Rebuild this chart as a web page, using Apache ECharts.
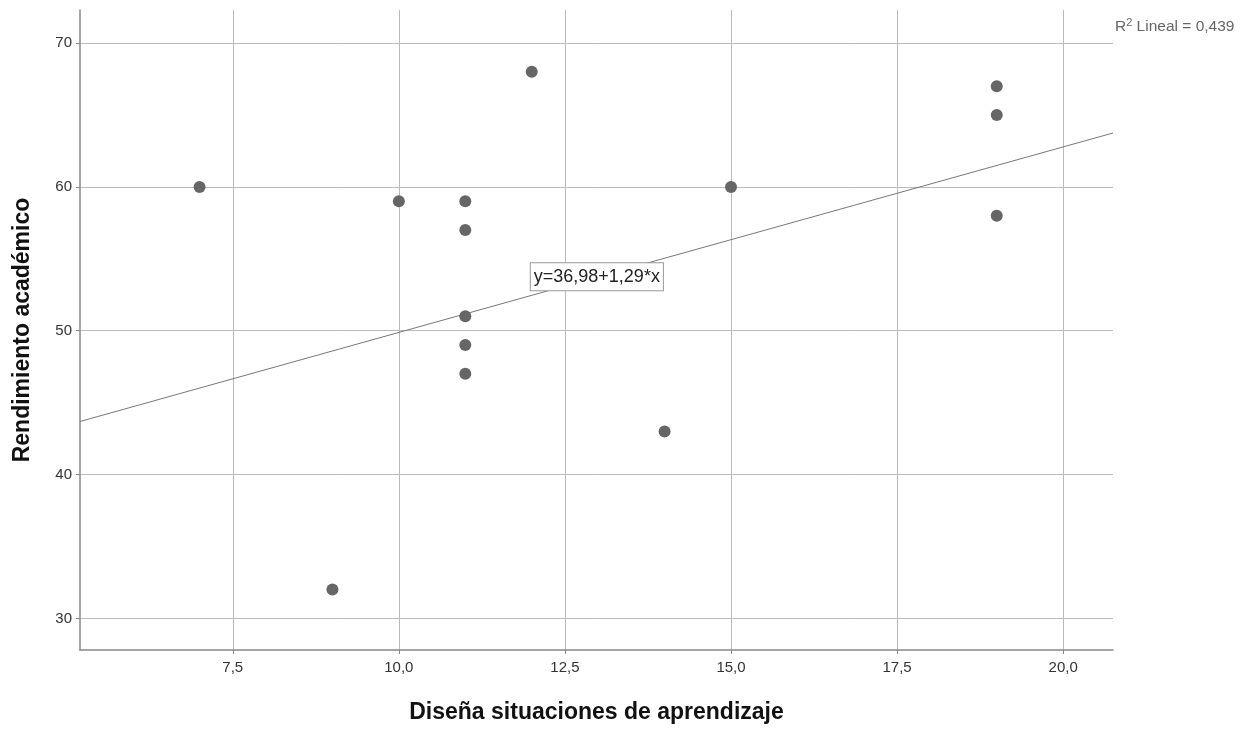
<!DOCTYPE html>
<html><head><meta charset="utf-8">
<script src="https://cdn.jsdelivr.net/npm/echarts@6/dist/echarts.min.js"></script>
<style>html,body{margin:0;padding:0;background:#fff}#c{width:1255px;height:731px}</style>
</head><body><div id="c"></div>
<script>
const xValues = [7, 9, 10, 11, 11, 11, 11, 11, 12, 14, 15, 19, 19, 19];
const yValues = [60, 32, 59, 59, 57, 51, 49, 47, 68, 43, 60, 67, 65, 58];
const xTicks = [7.5, 10, 12.5, 15, 17.5, 20];
const yTicks = [30, 40, 50, 60, 70];
const intercept = 36.98;
const slope = 1.29;
const r2 = '0,439';
const xTitle = 'Diseña situaciones de aprendizaje';
const yTitle = 'Rendimiento académico';

const xMin = 5.2, xMax = 20.75, yMin = 27.8, yMax = 72.3;
const fmt2 = v => v.toFixed(2).replace('.', ',');
const fmtX = v => v.toFixed(1).replace('.', ',');

const chart = echarts.init(document.getElementById('c'));
const font = '"Liberation Sans", Arial, sans-serif';
chart.setOption({
  animation: false,
  textStyle: {fontFamily: font},
  grid: {left: 80, right: 142, top: 10, bottom: 81, outerBoundsMode: 'none', containLabel: false},
  xAxis: {
    type: 'value', min: xMin, max: xMax,
    name: xTitle, nameLocation: 'middle', nameGap: 51,
    nameTextStyle: {fontSize: 23, fontWeight: 'bold', color: '#111', fontFamily: font},
    axisLine: {show: true, lineStyle: {color: '#888', width: 1.5}},
    axisTick: {show: true, length: 4, customValues: xTicks, lineStyle: {color: '#888'}},
    axisLabel: {customValues: xTicks, formatter: v => fmtX(v), fontSize: 15, color: '#333', margin: 10},
    splitLine: {show: true, lineStyle: {color: '#bbb', width: 1}}
  },
  yAxis: {
    type: 'value', min: yMin, max: yMax,
    name: yTitle, nameLocation: 'middle', nameGap: 46, nameRotate: 90,
    nameTextStyle: {fontSize: 23, fontWeight: 'bold', color: '#111', fontFamily: font},
    axisLine: {show: true, lineStyle: {color: '#888', width: 1.5}},
    axisTick: {show: true, length: 4, customValues: yTicks, lineStyle: {color: '#888'}},
    axisLabel: {customValues: yTicks, formatter: v => String(v), fontSize: 15, color: '#333', margin: 8},
    splitLine: {show: true, lineStyle: {color: '#bbb', width: 1}}
  },
  series: [
    {
      type: 'scatter',
      data: xValues.map((x, i) => [x, yValues[i]]),
      symbolSize: 12,
      itemStyle: {color: '#666', opacity: 1},
      z: 3
    },
    {
      type: 'line',
      data: [[xMin, intercept + slope * xMin], [xMax, intercept + slope * xMax]],
      symbol: 'none',
      lineStyle: {color: '#777', width: 1},
      z: 2,
      markPoint: {
        symbol: 'rect', symbolSize: 0,
        data: [{coord: [12.98, 53.75]}],
        label: {
          show: true, position: 'inside',
          formatter: 'y=' + fmt2(intercept) + '+' + fmt2(slope) + '*x',
          fontSize: 18, color: '#222', fontFamily: font,
          backgroundColor: '#fff', borderColor: '#999', borderWidth: 1,
          padding: [5, 3, 4, 3]
        }
      }
    }
  ],
  graphic: [{
    type: 'text', left: 1115, top: 17,
    style: {
      text: '{n|R}{s|2}{n| Lineal = ' + r2 + '}',
      rich: {
        n: {fontSize: 15.5, fill: '#666', fontFamily: font, verticalAlign: 'bottom'},
        s: {fontSize: 11, fill: '#666', fontFamily: font, verticalAlign: 'top', padding: [0, 0, 7, 0]}
      }
    }
  }]
});
</script></body></html>
